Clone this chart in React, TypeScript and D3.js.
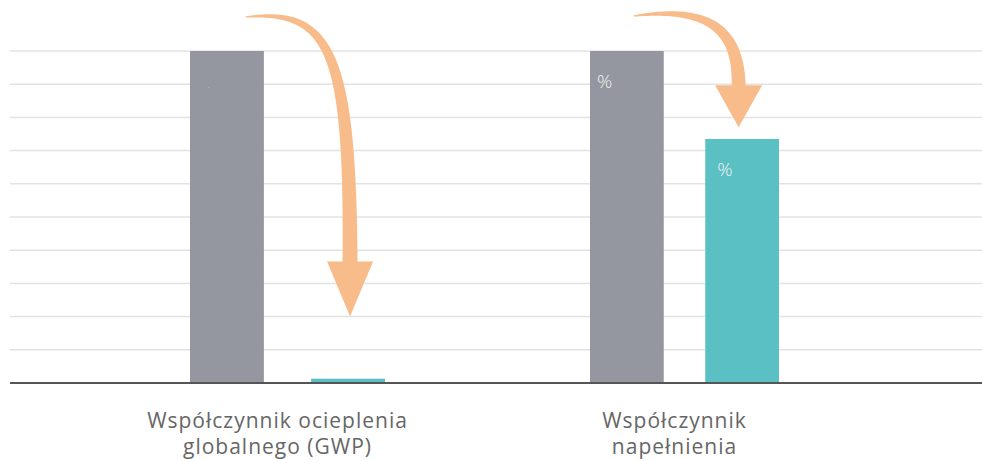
import React from "react";
import * as d3 from "d3";

const categories = ["Współczynnik ocieplenia\nglobalnego (GWP)", "Współczynnik\nnapełnienia"];
const series = ["before", "after"];
const beforeValues = [100, 100];
const afterValues = [1.3, 73.5];
const beforeLabels = [".", "%"];
const afterLabels = ["· -", "%"];
const arrowTipValues = [20, 77];
const yTicks = [0, 10, 20, 30, 40, 50, 60, 70, 80, 90, 100];

const W = 982;
const H = 460;
const colors: Record<string, string> = { before: "#94979f", after: "#5bc0c4" };
const arrowColor = "#f7bc8a";

function arrowPath(
  p0: [number, number], p1: [number, number], p2: [number, number], p3: [number, number],
  w0: number, w1: number, headW: number, tipY: number
) {
  const n = 60;
  const left: [number, number][] = [];
  const right: [number, number][] = [];
  for (let i = 0; i <= n; i++) {
    const t = i / n;
    const mt = 1 - t;
    const x = mt * mt * mt * p0[0] + 3 * mt * mt * t * p1[0] + 3 * mt * t * t * p2[0] + t * t * t * p3[0];
    const y = mt * mt * mt * p0[1] + 3 * mt * mt * t * p1[1] + 3 * mt * t * t * p2[1] + t * t * t * p3[1];
    const dx = 3 * mt * mt * (p1[0] - p0[0]) + 6 * mt * t * (p2[0] - p1[0]) + 3 * t * t * (p3[0] - p2[0]);
    const dy = 3 * mt * mt * (p1[1] - p0[1]) + 6 * mt * t * (p2[1] - p1[1]) + 3 * t * t * (p3[1] - p2[1]);
    const len = Math.hypot(dx, dy) || 1;
    const nx = -dy / len;
    const ny = dx / len;
    const w = (w0 + (w1 - w0) * Math.pow(t, 0.7)) / 2;
    left.push([x + nx * w, y + ny * w]);
    right.push([x - nx * w, y - ny * w]);
  }
  const body = d3.line()([...left, ...right.reverse()]) + "Z";
  const head = `M${p3[0] - headW / 2},${p3[1]}L${p3[0] + headW / 2},${p3[1]}L${p3[0]},${tipY}Z`;
  return body + head;
}

export default function App() {
  const x = d3.scaleBand<string>().domain(categories).range([89, 883]).padding(0);
  const innerRanges: [number, number][] = [[101, 296], [104, 293]];
  const inner = categories.map((_, i) =>
    d3.scaleBand<string>().domain(series).range(innerRanges[i]).paddingInner(i === 0 ? 0.39 : 0.36)
  );
  const y = d3.scaleLinear().domain([0, 100]).range([383, 51]);
  const font = "'Open Sans', sans-serif";
  const labelFont = "'Open Sans', sans-serif";

  return (
    <svg width={W} height={H} style={{ position: "absolute", left: 0, top: 0, background: "#fff" }}>
      {yTicks.filter((t) => t > 0).map((t) => (
        <line key={t} x1={10} x2={982} y1={y(t)} y2={y(t)} stroke="#e3e3e3" strokeWidth={1.5} />
      ))}
      {categories.map((c, i) => {
        const xi = inner[i];
        const gx = x(c)!;
        const bx = gx + xi("before")!;
        const ax = gx + xi("after")!;
        const bw = xi.bandwidth();
        return (
          <g key={c}>
            <rect x={bx} y={y(beforeValues[i])} width={bw} height={y(0) - y(beforeValues[i])} fill={colors.before} />
            <rect x={ax} y={y(afterValues[i])} width={bw} height={y(0) - y(afterValues[i])} fill={colors.after} />
          </g>
        );
      })}
      <line x1={10} x2={982} y1={y(0)} y2={y(0)} stroke="#555" strokeWidth={1.8} />
      {categories.map((c, i) => {
        const xi = inner[i];
        const gx = x(c)!;
        const bx = gx + xi("before")!;
        const ax = gx + xi("after")!;
        const big = i === 1;
        return (
          <g key={"l" + c}>
            {big ? (
              <>
                <text x={bx + 7} y={y(beforeValues[i]) + 37} fill="#f2f2f2" fontSize={19} fontWeight={300} fontFamily={font}>{beforeLabels[i]}</text>
                <text x={ax + 12} y={y(afterValues[i]) + 37} fill="#f2f2f2" fontSize={19} fontWeight={300} fontFamily={font}>{afterLabels[i]}</text>
              </>
            ) : (
              <>
                <text x={bx + 18} y={y(beforeValues[i]) + 37} fill="#ffffff" fontSize={4} fontFamily={font}>{beforeLabels[i]}</text>
                <text x={ax + 12} y={y(afterValues[i]) - 6} fill={colors.after} fontSize={4} fontFamily={font}>{afterLabels[i]}</text>
              </>
            )}
          </g>
        );
      })}
      {categories.map((c, i) => {
        const xi = inner[i];
        const gx = x(c)!;
        const bc = gx + xi("before")! + xi.bandwidth() / 2;
        const ac = gx + xi("after")! + xi.bandwidth() / 2;
        const tipY = y(arrowTipValues[i]);
        const d =
          i === 0
            ? arrowPath([bc + 18.5, 17], [bc + 105, 8], [ac + 2, 55], [ac + 2, tipY - 55], 1, 15, 46, tipY)
            : arrowPath([bc + 6.5, 16], [bc + 80, 6], [ac - 3.5, 28], [ac - 3.5, tipY - 42], 1, 14, 47, tipY);
        return <path key={"a" + c} d={d} fill={arrowColor} />;
      })}
      {categories.map((c, i) => {
        const cx = x(c)! + x.bandwidth() / 2 - 10;
        const lines = c.split("\n");
        return (
          <text key={"c" + c} x={cx} y={428} textAnchor="middle" fill="#666" fontSize={21} fontFamily={labelFont} letterSpacing={1}>
            {lines.map((ln, k) => (
              <tspan key={k} x={cx} dy={k === 0 ? 0 : 26}>{ln}</tspan>
            ))}
          </text>
        );
      })}
    </svg>
  );
}
